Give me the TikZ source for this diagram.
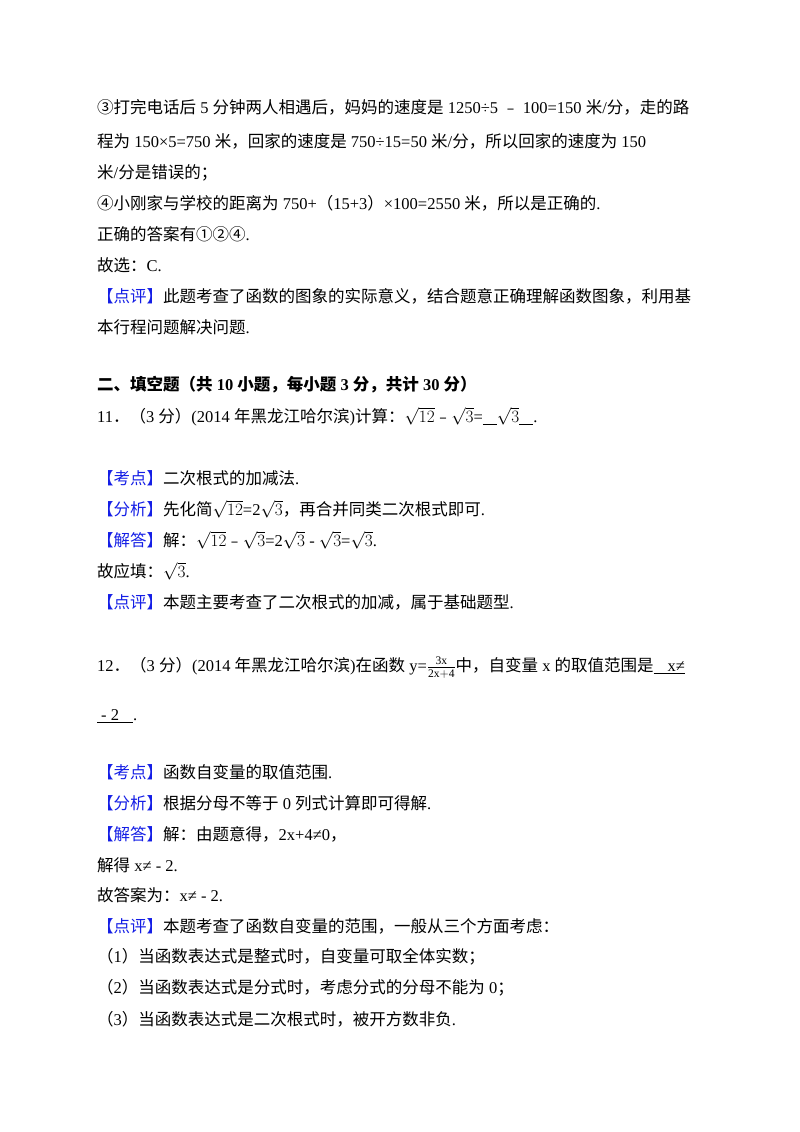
\documentclass[tikz,border=0pt]{standalone}
\usepackage{fontspec}
\setmainfont{Liberation Serif}
\newfontfamily\cjk{Noto Sans CJK SC}
\newfontfamily\latn{Liberation Serif}
\XeTeXinterchartokenstate=1
\newXeTeXintercharclass\CJKc
\count255="3000 \loop \XeTeXcharclass\count255=\CJKc \advance\count255 1 \ifnum\count255<"A000 \repeat
\count255="FF00 \loop \XeTeXcharclass\count255=\CJKc \advance\count255 1 \ifnum\count255<"FF60 \repeat
\count255="FE30 \loop \XeTeXcharclass\count255=\CJKc \advance\count255 1 \ifnum\count255<"FE70 \repeat
\count255="2460 \loop \XeTeXcharclass\count255=\CJKc \advance\count255 1 \ifnum\count255<"2474 \repeat
\XeTeXinterchartoks 0 \CJKc = {\cjk}
\XeTeXinterchartoks 4095 \CJKc = {\cjk}
\XeTeXinterchartoks \CJKc 0 = {\latn}
\XeTeXinterchartoks \CJKc 4095 = {\latn}
\definecolor{kb}{RGB}{20,30,230}
\newcommand{\tg}[1]{\textcolor{kb}{#1}}
\newcommand{\bl}[1]{\underline{\hspace{#1}}}
\begin{document}
\begin{tikzpicture}[x=1pt,y=-1pt,
  ln/.style={anchor=west,inner sep=0pt,font=\fontsize{16.5}{19}\selectfont}]
\useasboundingbox (0,0) rectangle (800,1132);
\fill[white] (0,0) rectangle (800,1132);
\node[ln] (l1) at (97,107) {③打完电话后 5 分钟两人相遇后，妈妈的速度是 1250÷5 ﹣ 100=150 米/分，走的路};
\node[ln] (l2) at (97,141) {程为 150×5=750 米，回家的速度是 750÷15=50 米/分，所以回家的速度为 150};
\node[ln] (l3) at (97,173) {米/分是错误的；};
\node[ln] (l4) at (97,203) {④小刚家与学校的距离为 750+（15+3）×100=2550 米，所以是正确的.};
\node[ln] (l5) at (97,234) {正确的答案有①②④.};
\node[ln] (l6) at (97,265) {故选：C.};
\node[ln] (l7) at (97,296) {\tg{【点评】}此题考查了函数的图象的实际意义，结合题意正确理解函数图象，利用基};
\node[ln] (l8) at (97,327) {本行程问题解决问题.};
\node[ln] (l9) at (97,385) {\bfseries 二、填空题（共 10 小题，每小题 3 分，共计 30 分）};
\node[ln] (l10) at (97,417) {11．（3 分）(2014 年黑龙江哈尔滨)计算：$\sqrt{12}$﹣$\sqrt{3}$=\bl{14pt}$\sqrt{3}$\bl{14pt}.};
\node[ln] (l11) at (97,478) {\tg{【考点】}二次根式的加减法.};
\node[ln] (l12) at (97,509) {\tg{【分析】}先化简$\sqrt{12}$=2$\sqrt{3}$，再合并同类二次根式即可.};
\node[ln] (l13) at (97,540) {\tg{【解答】}解：$\sqrt{12}$﹣$\sqrt{3}$=2$\sqrt{3}$ - $\sqrt{3}$=$\sqrt{3}$.};
\node[ln] (l14) at (97,571) {故应填：$\sqrt{3}$.};
\node[ln] (l15) at (97,602) {\tg{【点评】}本题主要考查了二次根式的加减，属于基础题型.};
\node[ln] (l16) at (97,668) {12．（3 分）(2014 年黑龙江哈尔滨)在函数 y=$\frac{\mathrm{3x}}{\mathrm{2x{+}4}}$中，自变量 x 的取值范围是\underline{\hspace{14pt}x≠}};
\node[ln] (l17) at (97,716) {\underline{\hspace{4pt}- 2\hspace{14pt}}.};
\node[ln] (l18) at (97,772) {\tg{【考点】}函数自变量的取值范围.};
\node[ln] (l19) at (97,803) {\tg{【分析】}根据分母不等于 0 列式计算即可得解.};
\node[ln] (l20) at (97,834) {\tg{【解答】}解：由题意得，2x+4≠0，};
\node[ln] (l21) at (97,865) {解得 x≠ - 2.};
\node[ln] (l22) at (97,895) {故答案为：x≠ - 2.};
\node[ln] (l23) at (97,926) {\tg{【点评】}本题考查了函数自变量的范围，一般从三个方面考虑：};
\node[ln] (l24) at (97,957) {（1）当函数表达式是整式时，自变量可取全体实数；};
\node[ln] (l25) at (97,988) {（2）当函数表达式是分式时，考虑分式的分母不能为 0；};
\node[ln] (l26) at (97,1019) {（3）当函数表达式是二次根式时，被开方数非负.};
\end{tikzpicture}
\end{document}
